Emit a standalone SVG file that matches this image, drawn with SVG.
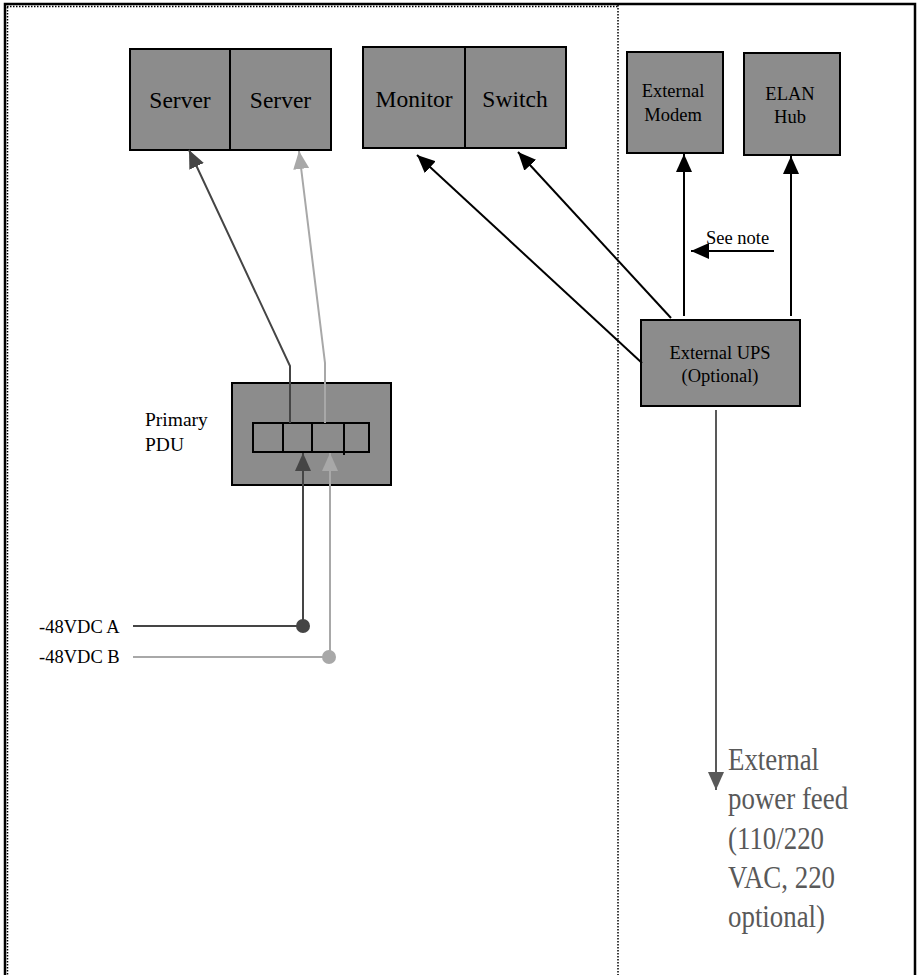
<svg xmlns="http://www.w3.org/2000/svg" width="918" height="975" viewBox="0 0 918 975">
<style>
  .box { fill: #8c8c8c; stroke: #000; stroke-width: 2; }
  .cell { fill: none; stroke: #000; stroke-width: 2; }
  .t { font-family: "Liberation Serif", "Times New Roman", serif; fill: #000; }
  .big { font-size: 23.5px; }
  .sm { font-size: 18.5px; }
  .feed { font-family: "Liberation Serif", "Times New Roman", serif; font-size: 32px; fill: #595959; }
  .blk { stroke: #000; stroke-width: 2; fill: none; }
  .drk { stroke: #454545; stroke-width: 2; fill: none; }
  .lgt { stroke: #a8a8a8; stroke-width: 2; fill: none; }
  .gry { stroke: #595959; stroke-width: 2; fill: none; }
  .dot { stroke: #000; stroke-width: 1.5; stroke-dasharray: 1.5 1.5; fill: none; }
</style>
<defs>
  <marker id="ab" markerUnits="userSpaceOnUse" markerWidth="18" markerHeight="16" refX="18" refY="8" orient="auto"><path d="M0,0 L18,8 L0,16 z" fill="#000"/></marker>
  <marker id="ad" markerUnits="userSpaceOnUse" markerWidth="18" markerHeight="16" refX="18" refY="8" orient="auto"><path d="M0,0 L18,8 L0,16 z" fill="#454545"/></marker>
  <marker id="al" markerUnits="userSpaceOnUse" markerWidth="18" markerHeight="16" refX="18" refY="8" orient="auto"><path d="M0,0 L18,8 L0,16 z" fill="#a8a8a8"/></marker>
  <marker id="ag" markerUnits="userSpaceOnUse" markerWidth="18" markerHeight="16" refX="18" refY="8" orient="auto"><path d="M0,0 L18,8 L0,16 z" fill="#595959"/></marker>
</defs>

<g id="frame">
  <path d="M5,980 L5,4 L915,4 L915,980" fill="none" stroke="#000" stroke-width="2.5"/>
  <line class="dot" x1="7.5" y1="7" x2="7.5" y2="975"/>
  <line class="dot" x1="7" y1="6.5" x2="618" y2="6.5"/>
  <line class="dot" x1="618" y1="5" x2="618" y2="975"/>
</g>

<g id="servers">
  <rect class="box" x="130" y="49" width="100" height="101"/>
  <rect class="box" x="230" y="49" width="101" height="101"/>
  <text class="t big" x="180" y="108" text-anchor="middle">Server</text>
  <text class="t big" x="280.5" y="108" text-anchor="middle">Server</text>
</g>

<g id="monitor-switch">
  <rect class="box" x="363" y="47" width="102" height="101"/>
  <rect class="box" x="465" y="47" width="101" height="101"/>
  <text class="t big" x="414" y="107" text-anchor="middle">Monitor</text>
  <text class="t big" x="515" y="107" text-anchor="middle">Switch</text>
</g>

<g id="modem">
  <rect class="box" x="627" y="52" width="96" height="101"/>
  <text class="t sm" x="673" y="97" text-anchor="middle">External</text>
  <text class="t sm" x="673" y="121" text-anchor="middle">Modem</text>
</g>

<g id="elan-hub">
  <rect class="box" x="744" y="53" width="96" height="102"/>
  <text class="t sm" x="790" y="100" text-anchor="middle">ELAN</text>
  <text class="t sm" x="790" y="123" text-anchor="middle">Hub</text>
</g>

<g id="ups">
  <rect class="box" x="641" y="320" width="159" height="86"/>
  <text class="t sm" x="720" y="359" text-anchor="middle">External UPS</text>
  <text class="t sm" x="720" y="382" text-anchor="middle">(Optional)</text>
</g>

<g id="pdu">
  <rect class="box" x="232" y="383" width="159" height="102"/>
  <rect class="cell" x="253" y="423" width="116" height="29"/>
  <line class="cell" x1="283" y1="423" x2="283" y2="452"/>
  <line class="cell" x1="312" y1="423" x2="312" y2="452"/>
  <line class="cell" x1="344" y1="423" x2="344" y2="455"/>
  <text class="t" style="font-size:19.5px" x="145" y="426">Primary</text>
  <text class="t" style="font-size:19.5px" x="145" y="451">PDU</text>
</g>

<g id="labels">
  <text class="t sm" x="39" y="633">-48VDC A</text>
  <text class="t sm" x="39" y="663">-48VDC B</text>
  <text class="t sm" x="706" y="244">See note</text>
  <g transform="translate(728,0) scale(0.84,1)">
    <text class="feed" x="0" y="770">External</text>
    <text class="feed" x="0" y="809">power feed</text>
    <text class="feed" x="0" y="849">(110/220</text>
    <text class="feed" x="0" y="888">VAC, 220</text>
    <text class="feed" x="0" y="927">optional)</text>
  </g>
</g>

<g id="connectors">
  <polyline class="drk" points="290,423 290,366 189,150" marker-end="url(#ad)"/>
  <polyline class="lgt" points="325,423 325,363 299,151" marker-end="url(#al)"/>
  <line class="drk" x1="133" y1="626" x2="303" y2="626"/>
  <circle cx="303" cy="626" r="7" fill="#454545"/>
  <line class="drk" x1="303" y1="626" x2="303" y2="453" marker-end="url(#ad)"/>
  <line class="lgt" x1="133" y1="657" x2="329" y2="657"/>
  <circle cx="329" cy="657" r="7" fill="#a8a8a8"/>
  <line class="lgt" x1="330" y1="657" x2="330" y2="453" marker-end="url(#al)"/>
  <line class="blk" x1="642" y1="363" x2="417" y2="155" marker-end="url(#ab)"/>
  <line class="blk" x1="671" y1="318" x2="518" y2="152" marker-end="url(#ab)"/>
  <line class="blk" x1="684" y1="316" x2="684" y2="154" marker-end="url(#ab)"/>
  <line class="blk" x1="791" y1="316" x2="791" y2="156" marker-end="url(#ab)"/>
  <line class="blk" x1="774" y1="251" x2="691" y2="251" marker-end="url(#ab)"/>
  <line class="gry" x1="716" y1="410" x2="716" y2="790" marker-end="url(#ag)"/>
</g>
</svg>
